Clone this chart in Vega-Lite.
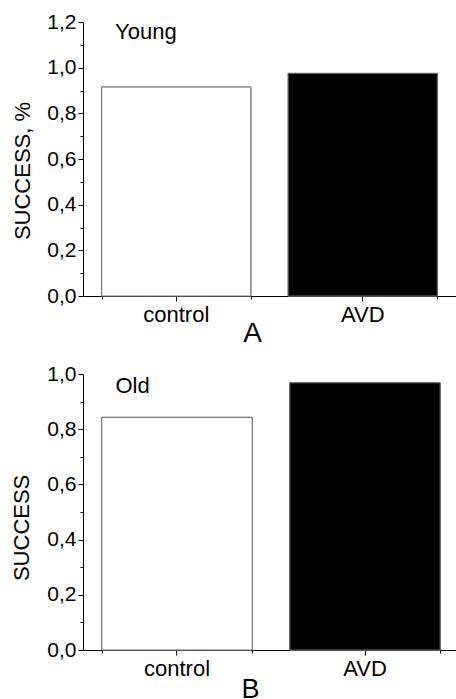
{
  "$schema": "https://vega.github.io/schema/vega-lite/v6.json",
  "padding": {"left": 10, "top": 11, "right": 0, "bottom": 0},
  "background": "white",
  "spacing": 15,
  "config": {
    "view": {"stroke": null},
    "font": "Liberation Sans",
    "axis": {"labelFont": "Liberation Sans", "titleFont": "Liberation Sans", "labelColor": "black", "titleColor": "black", "domainColor": "black", "tickColor": "black", "domainWidth": 1, "tickWidth": 1, "titleFontWeight": "normal", "grid": false},
    "axisY": {"labelFontSize": 21, "labelPadding": 2, "titleFontSize": 22, "titleAngle": -90, "titleBaseline": "alphabetic", "titleAlign": "center", "titleAnchor": null, "labelExpr": "round(datum.value*10)%2==0 ? replace(format(datum.value,'.1f'),'.',',') : ''", "tickSize": {"condition": {"test": "round(datum.value*10)%2==1", "value": 3}, "value": 5}}
  },
  "vconcat": [
    {
      "width": 373,
      "height": 274,
      "resolve": {"axis": {"x": "independent"}},
      "layer": [
        {
          "data": {"values": [{"group": "control", "success": 0.915}, {"group": "AVD", "success": 0.975}]},
          "mark": {"type": "bar", "stroke": "#6e6e6e", "strokeWidth": 1},
          "encoding": {
            "x": {"field": "group", "type": "nominal", "sort": ["control", "AVD"], "scale": {"paddingInner": 0.2, "paddingOuter": 0.1},
              "axis": {"title": "A", "labelAngle": 0, "labelFontSize": 22, "labelBaseline": "alphabetic", "labelPadding": 20.7, "tickSize": 5, "titleFontSize": 28, "titleX": 169, "titleY": 45.7, "titleBaseline": "alphabetic", "titleAlign": "center", "titleAnchor": null}},
            "y": {"field": "success", "type": "quantitative", "scale": {"domain": [0, 1.2], "nice": false},
              "axis": {"title": "SUCCESS, %", "values": [0, 0.1, 0.2, 0.3, 0.4, 0.5, 0.6, 0.7, 0.8, 0.9, 1.0, 1.1, 1.2], "titleX": -54, "titleY": 148.5}},
            "fill": {"field": "group", "type": "nominal", "scale": {"domain": ["control", "AVD"], "range": ["white", "black"]}, "legend": null}
          }
        },
        {
          "data": {"values": [{"group": "control", "success": 0.915}, {"group": "AVD", "success": 0.975}]},
          "mark": {"type": "bar", "stroke": "#6e6e6e", "strokeWidth": 1},
          "encoding": {
            "x": {"field": "group", "type": "nominal", "sort": ["control", "AVD"], "scale": {"paddingInner": 0.2, "paddingOuter": 0.1},
              "axis": {"orient": "bottom", "tickBand": "extent", "labels": false, "domain": false, "tickSize": 3, "title": null}},
            "y": {"field": "success", "type": "quantitative", "scale": {"domain": [0, 1.2], "nice": false},
              "axis": {"title": "SUCCESS, %", "values": [0, 0.1, 0.2, 0.3, 0.4, 0.5, 0.6, 0.7, 0.8, 0.9, 1.0, 1.1, 1.2], "titleX": -54, "titleY": 148.5}},
            "fill": {"field": "group", "type": "nominal", "scale": {"domain": ["control", "AVD"], "range": ["white", "black"]}, "legend": null}
          }
        },
        {
          "data": {"values": [{"label": "Young"}]},
          "mark": {"type": "text", "align": "left", "baseline": "alphabetic", "fontSize": 22, "font": "Liberation Sans", "color": "black", "dx": 13.4, "dy": 17},
          "encoding": {
            "text": {"field": "label"},
            "x": {"datum": "control", "bandPosition": 0, "axis": null},
            "y": {"datum": 1.2, "type": "quantitative",
              "axis": {"title": "SUCCESS, %", "values": [0, 0.1, 0.2, 0.3, 0.4, 0.5, 0.6, 0.7, 0.8, 0.9, 1.0, 1.1, 1.2], "titleX": -54, "titleY": 148.5}}
          }
        }
      ]
    },
    {
      "width": 376,
      "height": 276,
      "resolve": {"axis": {"x": "independent"}},
      "layer": [
        {
          "data": {"values": [{"group": "control", "success": 0.843}, {"group": "AVD", "success": 0.968}]},
          "mark": {"type": "bar", "stroke": "#6e6e6e", "strokeWidth": 1},
          "encoding": {
            "x": {"field": "group", "type": "nominal", "sort": ["control", "AVD"], "scale": {"paddingInner": 0.2, "paddingOuter": 0.1},
              "axis": {"title": "B", "labelAngle": 0, "labelFontSize": 22, "labelBaseline": "alphabetic", "labelPadding": 20.7, "tickSize": 5, "titleFontSize": 27, "titleX": 167, "titleY": 47.4, "titleBaseline": "alphabetic", "titleAlign": "center", "titleAnchor": null}},
            "y": {"field": "success", "type": "quantitative", "scale": {"domain": [0, 1.0], "nice": false},
              "axis": {"title": "SUCCESS", "values": [0, 0.1, 0.2, 0.3, 0.4, 0.5, 0.6, 0.7, 0.8, 0.9, 1.0], "titleX": -55, "titleY": 153.4}},
            "fill": {"field": "group", "type": "nominal", "scale": {"domain": ["control", "AVD"], "range": ["white", "black"]}, "legend": null}
          }
        },
        {
          "data": {"values": [{"group": "control", "success": 0.843}, {"group": "AVD", "success": 0.968}]},
          "mark": {"type": "bar", "stroke": "#6e6e6e", "strokeWidth": 1},
          "encoding": {
            "x": {"field": "group", "type": "nominal", "sort": ["control", "AVD"], "scale": {"paddingInner": 0.2, "paddingOuter": 0.1},
              "axis": {"orient": "bottom", "tickBand": "extent", "labels": false, "domain": false, "tickSize": 3, "title": null}},
            "y": {"field": "success", "type": "quantitative", "scale": {"domain": [0, 1.0], "nice": false},
              "axis": {"title": "SUCCESS", "values": [0, 0.1, 0.2, 0.3, 0.4, 0.5, 0.6, 0.7, 0.8, 0.9, 1.0], "titleX": -55, "titleY": 153.4}},
            "fill": {"field": "group", "type": "nominal", "scale": {"domain": ["control", "AVD"], "range": ["white", "black"]}, "legend": null}
          }
        },
        {
          "data": {"values": [{"label": "Old"}]},
          "mark": {"type": "text", "align": "left", "baseline": "alphabetic", "fontSize": 22, "font": "Liberation Sans", "color": "black", "dx": 13.6, "dy": 19.4},
          "encoding": {
            "text": {"field": "label"},
            "x": {"datum": "control", "bandPosition": 0, "axis": null},
            "y": {"datum": 1.0, "type": "quantitative",
              "axis": {"title": "SUCCESS", "values": [0, 0.1, 0.2, 0.3, 0.4, 0.5, 0.6, 0.7, 0.8, 0.9, 1.0], "titleX": -55, "titleY": 153.4}}
          }
        }
      ]
    }
  ]
}
